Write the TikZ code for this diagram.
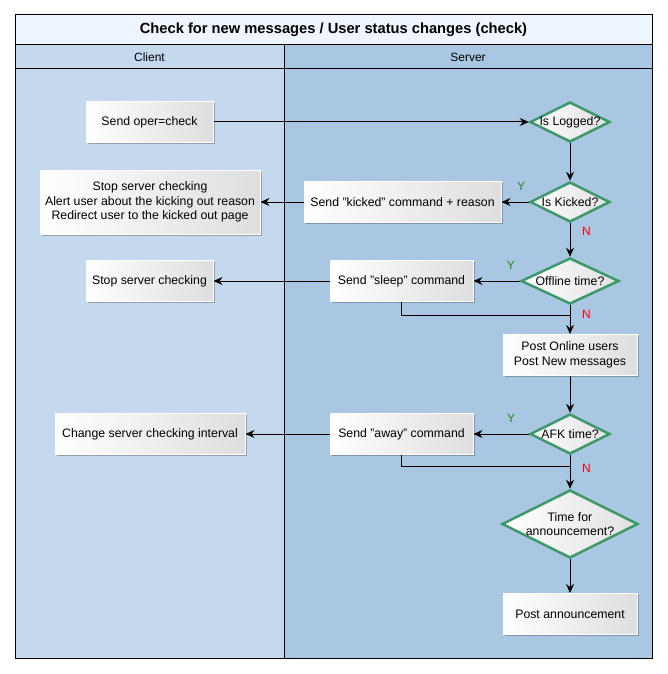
\documentclass[tikz,border=0pt]{standalone}
\usepackage{fontspec}
\setmainfont{Liberation Sans}
\usetikzlibrary{shapes,arrows,arrows.meta,positioning,shadows}
\definecolor{titlefill}{HTML}{EEF5FF}
\definecolor{clientfill}{HTML}{C4D8EE}
\definecolor{serverfill}{HTML}{A9C6E2}
\definecolor{decgreen}{HTML}{3C9A6A}
\definecolor{yesgreen}{HTML}{1E8C1E}
\tikzstyle{block} = [rectangle, draw=white, left color=white,
    right color=black!13, minimum height=41pt, inner sep=0pt,
    align=center, font=\fontsize{12.3}{14.5}\selectfont,
    drop shadow={shadow xshift=1.5pt, shadow yshift=-1.5pt,
    fill=black, opacity=0.25}]
\tikzstyle{decision} = [diamond, aspect=2, draw=decgreen,
    line width=2.5pt, left color=white, right color=black!12,
    inner xsep=-4pt, inner ysep=0pt, minimum width=80pt,
    minimum height=40pt, align=center,
    font=\fontsize{12.3}{14.5}\selectfont]
\tikzstyle{lanehead} = [font=\fontsize{12}{14}\selectfont]
\tikzstyle{yes} = [text=yesgreen, inner sep=0pt,
    font=\fontsize{12}{14}\selectfont]
\tikzstyle{no} = [text=red, inner sep=0pt,
    font=\fontsize{12}{14}\selectfont]

\begin{document}
\begin{tikzpicture}[x=1pt, y=1pt, node distance=80pt,
    >={Stealth[length=9pt, width=8pt, inset=3pt]}, line width=1pt]
    \useasboundingbox (0,0) rectangle (668,-674);
    % We start with the lanes and their headers
    \fill[clientfill] (15,-45) rectangle (284,-658);
    \fill[serverfill] (284,-45) rectangle (652,-658);
    \fill[titlefill] (15,-15) rectangle (652,-45);
    \draw (15,-15) rectangle (652,-658);
    \draw (15,-45) -- (652,-45);
    \draw (15,-69) -- (652,-69);
    \draw (284,-45) -- (284,-658);
    \node [font=\bfseries\fontsize{14.7}{16}\selectfont] (title)
        at (333.5,-30) {Check for new messages / User status changes (check)};
    \node [lanehead] (client) at (149.5,-57) {Client};
    \node [lanehead] (server) at (468,-57) {Server};

    % The server decisions go down one column
    \node [decision] (logged) at (570,-122) {Is Logged?};
    \node [decision, below of=logged] (kicked) {Is Kicked?};
    \node [decision, below of=kicked, node distance=79pt,
            minimum width=98pt, minimum height=46pt] (offline) {Offline time?};
    \node [block, below of=offline, node distance=74pt,
            minimum width=134pt] (post) {Post Online users\\Post New messages};
    \node [decision, below of=post, node distance=79pt] (afk) {AFK time?};
    \node [decision, below of=afk, node distance=90pt,
            minimum width=136pt, minimum height=68pt] (announce)
            {Time for\\announcement?};
    \node [block, below of=announce, node distance=90pt,
            minimum width=134pt] (postann) {Post announcement};

    % Commands sent back by the server
    \node [block, left of=kicked, node distance=167.5pt,
            minimum width=197pt] (kickcmd) {Send "kicked" command + reason};
    \node [block, left of=offline, node distance=168.5pt,
            minimum width=143pt] (sleepcmd) {Send "sleep" command};
    \node [block, left of=afk, node distance=168.5pt,
            minimum width=143pt] (awaycmd) {Send "away" command};

    % What the client does
    \node [block, left of=logged, node distance=420.5pt,
            minimum width=127pt, minimum height=40pt] (oper) {Send oper=check};
    \node [block, left of=kickcmd, node distance=252.5pt,
            minimum width=220pt, minimum height=64pt] (kickcli)
            {Stop server checking\\Alert user about the kicking out reason\\Redirect user to the kicked out page};
    \node [block, left of=sleepcmd, node distance=252pt,
            minimum width=127pt] (sleepcli) {Stop server checking};
    \node [block, left of=awaycmd, node distance=251.5pt,
            minimum width=190pt] (awaycli) {Change server checking interval};
    \coordinate (sleepjoin) at (570,-315);
    \coordinate (awayjoin) at (570,-466);

    % Once the nodes are placed, connecting them is easy.
    \draw [->] (oper) -- (logged);
    \draw [->] (logged) -- (kicked);
    \draw [->] (kicked) -- node [yes, pos=0.28, above=11.5pt] {Y} (kickcmd);
    \draw [->] (kickcmd) -- (kickcli);
    \draw [->] (kicked) -- node [no, pos=0.25, right=11.5pt] {N} (offline);
    \draw [->] (offline) -- node [yes, pos=0.19, above=11.5pt] {Y} (sleepcmd);
    \draw [->] (sleepcmd) -- (sleepcli);
    \draw [->] (offline) -- node [no, pos=0.32, right=11.5pt] {N} (post);
    \draw (sleepcmd) |- (sleepjoin);
    \draw [->] (post) -- (afk);
    \draw [->] (afk) -- node [yes, pos=0.32, above=11.5pt] {Y} (awaycmd);
    \draw [->] (awaycmd) -- (awaycli);
    \draw [->] (afk) -- node [no, pos=0.39, right=11.5pt] {N} (announce);
    \draw (awaycmd) |- (awayjoin);
    \draw [->] (announce) -- (postann);
\end{tikzpicture}
\end{document}
